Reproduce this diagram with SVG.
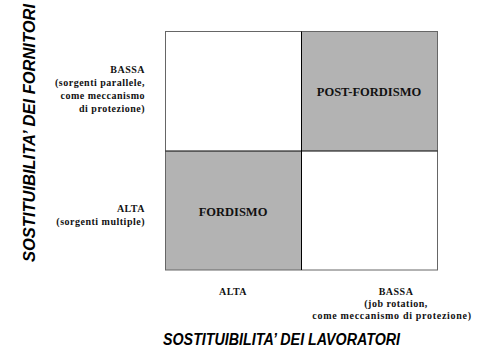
<svg xmlns="http://www.w3.org/2000/svg" width="485" height="353" viewBox="0 0 485 353">
<style>
.lbl{font-family:"Liberation Serif","Times New Roman",serif;font-weight:bold;font-size:10px;fill:#111;letter-spacing:0.5px}
.cell{font-family:"Liberation Serif","Times New Roman",serif;font-weight:bold;font-size:12.5px;fill:#111;text-anchor:middle}
.title{font-family:"Liberation Sans",Arial,sans-serif;font-weight:bold;font-style:italic;font-size:16px;fill:#000}
.gray{fill:#b3b3b3}
.white{fill:#fff}
</style>
<rect width="485" height="353" fill="#fff"/>
<g id="cell-top-left"><rect class="white" x="165.5" y="31.5" width="136" height="119.5"/></g>
<g id="cell-top-right"><rect class="gray" x="301.5" y="31.5" width="136" height="119.5"/><text class="cell" x="369" y="96">POST-FORDISMO</text></g>
<g id="cell-bottom-left"><rect class="gray" x="165.5" y="151" width="136" height="119"/><text class="cell" x="233" y="216">FORDISMO</text></g>
<g id="cell-bottom-right"><rect class="white" x="301.5" y="151" width="136" height="119"/></g>
<g id="grid">
<rect x="165.5" y="31.5" width="272" height="238.5" fill="none" stroke="#666" stroke-width="1"/>
<line x1="301.5" y1="31.5" x2="301.5" y2="270" stroke="#000" stroke-width="1"/>
<line x1="165.5" y1="151" x2="437.5" y2="151" stroke="#000" stroke-width="1"/>
</g>
<g id="y-labels" text-anchor="end" xml:space="preserve">
<text class="lbl" x="145" y="73">BASSA</text>
<text class="lbl" x="145" y="86">(sorgenti parallele,</text>
<text class="lbl" x="145" y="99">come meccanismo</text>
<text class="lbl" x="145" y="112">di  protezione)</text>
<text class="lbl" x="145" y="212">ALTA</text>
<text class="lbl" x="145" y="225">(sorgenti multiple)</text>
</g>
<g id="x-labels" text-anchor="middle" xml:space="preserve">
<text class="lbl" x="233" y="295">ALTA</text>
<text class="lbl" x="396" y="295">BASSA</text>
<text class="lbl" x="396" y="307">(job rotation,</text>
<text class="lbl" x="392" y="319" style="letter-spacing:0.7px">come meccanismo di  protezione)</text>
</g>
<g id="axis-titles">
<text class="title" x="163" y="345" textLength="237" lengthAdjust="spacingAndGlyphs">SOSTITUIBILITA’ DEI LAVORATORI</text>
<text class="title" text-anchor="middle" transform="translate(35,133) rotate(-90)" textLength="258" lengthAdjust="spacingAndGlyphs">SOSTITUIBILITA’ DEI FORNITORI</text>
</g>
</svg>
